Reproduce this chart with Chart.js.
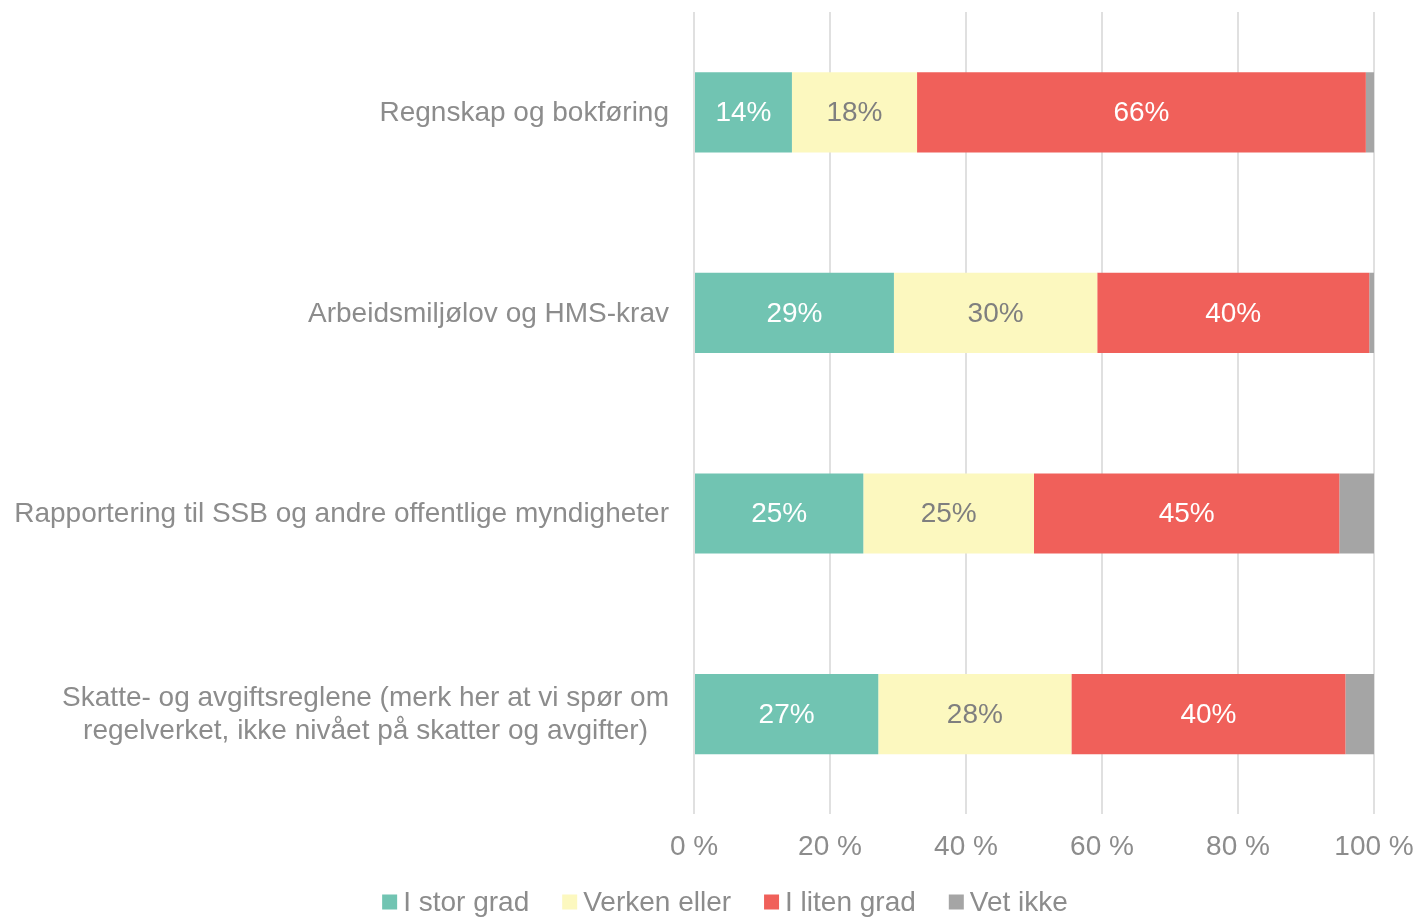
<!DOCTYPE html>
<html>
<head>
<meta charset="utf-8">
<script src="https://cdn.jsdelivr.net/npm/chart.js@4.4.0/dist/chart.umd.min.js"></script>
<style>
html, body { margin: 0; padding: 0; background: #fff; }
#wrap { width: 1417px; height: 917px; }
</style>
</head>
<body>
<div id="wrap"><canvas id="grafico" width="1417" height="917"></canvas></div>
<script>
// kategorier (nederst til slutt)
const kategorier = [
  ["Regnskap og bokføring"],
  ["Arbeidsmiljølov og HMS-krav"],
  ["Rapportering til SSB og andre offentlige myndigheter"],
  ["Skatte- og avgiftsreglene (merk her at vi spør om", "regelverket, ikke nivået på skatter og avgifter)"]
];

const serieNavn = ["I stor grad", "Verken eller", "I liten grad", "Vet ikke"];

const iStorGrad = [14.4, 29.4, 24.9, 27.1];
const verkenEller = [18.4, 29.9, 25.1, 28.4];
const iLitenGrad = [66.0, 40.0, 44.9, 40.3];
const vetIkke = [1.2, 0.7, 5.1, 4.2];

const xTicks = [0, 20, 40, 60, 80, 100];

const farger = ["#71c4b2", "#fcf8bf", "#f0605a", "#a5a5a5"];
const tekstFarger = ["#ffffff", "#7f7f7f", "#ffffff", null];
const gra = "#8c8c8c";
const font = "Liberation Sans, Arial, sans-serif";
const str = 28;

// etiketter inne i stolpene
const verdiEtiketter = {
  id: "verdiEtiketter",
  afterDatasetsDraw(chart) {
    const ctx = chart.ctx;
    ctx.save();
    ctx.font = str + "px " + font;
    ctx.textAlign = "center";
    ctx.textBaseline = "middle";
    chart.data.datasets.forEach((ds, di) => {
      if (!tekstFarger[di]) return;
      chart.getDatasetMeta(di).data.forEach((el, i) => {
        ctx.fillStyle = tekstFarger[di];
        ctx.fillText(Math.round(ds.data[i]) + "%", (el.x + el.base) / 2, el.y + 1);
      });
    });
    ctx.restore();
  }
};

// kategorietiketter til venstre, flere linjer sentrert
const kategoriEtiketter = {
  id: "kategoriEtiketter",
  afterDraw(chart) {
    const ctx = chart.ctx;
    const y = chart.scales.y;
    const hoyre = chart.chartArea.left - 25;
    ctx.save();
    ctx.font = str + "px " + font;
    ctx.fillStyle = gra;
    ctx.textBaseline = "middle";
    kategorier.forEach((linjer, i) => {
      const yc = y.getPixelForValue(i) + 1;
      if (linjer.length == 1) {
        ctx.textAlign = "right";
        ctx.fillText(linjer[0], hoyre, yc);
      } else {
        let maks = Math.max(...linjer.map(l => ctx.measureText(l).width));
        let midt = hoyre - maks / 2;
        ctx.textAlign = "center";
        linjer.forEach((l, k) => {
          ctx.fillText(l, midt, yc + (k - (linjer.length - 1) / 2) * 33);
        });
      }
    });
    ctx.restore();
  }
};

// forklaring nederst
const forklaring = {
  id: "forklaring",
  afterDraw(chart) {
    const ctx = chart.ctx;
    ctx.save();
    ctx.font = str + "px " + font;
    ctx.textBaseline = "middle";
    ctx.textAlign = "left";
    const boks = 15, gap1 = 6, gap2 = 33;
    let total = 0;
    serieNavn.forEach((n, i) => {
      total += boks + gap1 + ctx.measureText(n).width;
      if (i < serieNavn.length - 1) total += gap2;
    });
    let x = 725 - total / 2;
    const yc = 902;
    serieNavn.forEach((n, i) => {
      ctx.fillStyle = farger[i];
      ctx.fillRect(x, yc - boks / 2, boks, boks);
      x += boks + gap1;
      ctx.fillStyle = gra;
      ctx.fillText(n, x, yc + 1);
      x += ctx.measureText(n).width + gap2;
    });
    ctx.restore();
  }
};

const serier = [iStorGrad, verkenEller, iLitenGrad, vetIkke];

let ctx = document.getElementById("grafico").getContext("2d");

window.miGrafico = new Chart(ctx, {
  type: "bar",
  data: {
    labels: kategorier.map(l => l.join(" ")),
    datasets: serier.map((d, i) => ({
      label: serieNavn[i],
      data: d,
      backgroundColor: farger[i],
      borderWidth: 0,
      barPercentage: 0.4,
      categoryPercentage: 1
    }))
  },
  options: {
    indexAxis: "y",
    responsive: false,
    animation: false,
    layout: { padding: { top: 12, right: 43, bottom: 37, left: 0 } },
    plugins: {
      legend: { display: false },
      tooltip: { enabled: false }
    },
    scales: {
      x: {
        stacked: true,
        min: 0,
        max: 100,
        afterBuildTicks(scale) {
          scale.ticks = xTicks.map(v => ({ value: v }));
        },
        afterFit(scale) {
          scale.paddingLeft = 0;
          scale.paddingRight = 0;
        },
        ticks: {
          padding: 16,
          color: gra,
          font: { family: font, size: str },
          callback: v => v + " %"
        },
        grid: { color: "#e0e0e0", lineWidth: 2, drawTicks: false },
        border: { display: false }
      },
      y: {
        stacked: true,
        ticks: { display: false },
        grid: { display: false },
        border: { display: false },
        afterFit(scale) { scale.width = 694; }
      }
    }
  },
  plugins: [verdiEtiketter, kategoriEtiketter, forklaring]
});
</script>
</body>
</html>
